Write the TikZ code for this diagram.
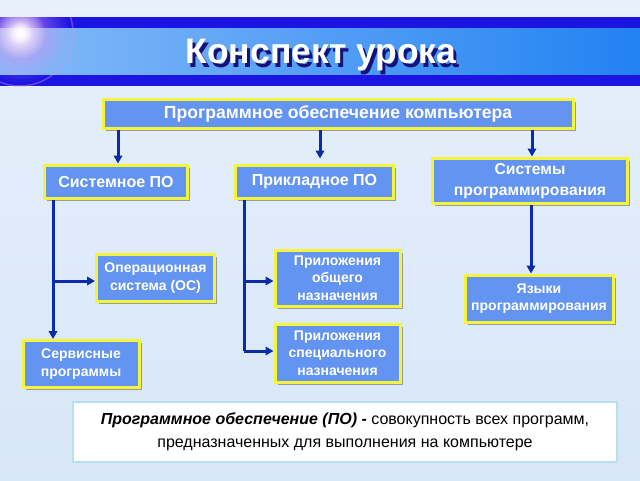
\documentclass[tikz,border=0pt]{standalone}
\usepackage{fontspec}
\setmainfont{Liberation Sans}
\usetikzlibrary{arrows.meta,shadows,calc,fadings}
\definecolor{bg}{HTML}{D7E6F8}
\definecolor{banddark}{HTML}{1C14E0}
\definecolor{bandmid}{HTML}{2282F2}
\definecolor{boxblue}{HTML}{6394F2}
\definecolor{boxedge}{HTML}{F4F43A}
\definecolor{arrblue}{HTML}{0A2CA8}
\definecolor{defedge}{HTML}{B6E0EC}
\definecolor{titleshadow}{HTML}{14127A}
\definecolor{glowpink}{HTML}{D890F0}
\tikzfading[name=glowfade, inner color=transparent!0, outer color=transparent!100]
\tikzset{
  box/.style={draw=boxedge, line width=3pt, fill=boxblue, text=white,
    font=\bfseries\fontsize{16}{19}\selectfont, align=center, inner sep=0pt,
    drop shadow={shadow xshift=2.5pt, shadow yshift=-2.5pt, fill=black!60, opacity=0.6}},
  small/.style={font=\bfseries\fontsize{14}{17.5}\selectfont},
  arr/.style={draw=arrblue, line width=3pt, -{Triangle[length=8pt,width=8.5pt]}},
  trunk/.style={draw=arrblue, line width=3pt},
  titletext/.style={font=\bfseries\fontsize{35.5}{40}\selectfont}
}
\begin{document}
\begin{tikzpicture}[x=1pt,y=-1pt]
\useasboundingbox (0,0) rectangle (640,480);
\shade[top color=bg!60!white, bottom color=bg] (0,0) rectangle (640,480);
% title band
\fill[banddark] (0,17) rectangle (640,86);
\shade[left color=bandmid!55!white, right color=bandmid] (0,28) rectangle (640,74);
\begin{scope}
\clip (0,17) rectangle (640,86);
\fill[glowpink, opacity=0.8, path fading=glowfade] (20,33) circle (50);
\fill[white, path fading=glowfade] (20,33) circle (26);
\fill[white, path fading=glowfade] (20,33) circle (12);
\draw[glowpink, opacity=0.4, line width=1.5pt] (20,33) circle (53);
\end{scope}
\node[titletext, text=titleshadow] at (324,58.5) {Конспект урока};
\node (title) [titletext, text=white] at (321,54.5) {Конспект урока};
% boxes
\node (b0) [box, font=\bfseries\fontsize{17.6}{20}\selectfont, minimum width=470, minimum height=29] at (338,114) {Программное обеспечение компьютера};
\node (sys) [box, minimum width=143, minimum height=33] at (116,181.5) {Системное ПО};
\node (app) [box, minimum width=158, minimum height=33] at (314.5,181.5) {Прикладное ПО};
\node (prog) [box, font=\bfseries\fontsize{15.7}{20.5}\selectfont, minimum width=195, minimum height=45] at (530,180.5) {\raisebox{0pt}[12pt][0pt]{Системы}\\программирования};
\node (os) [box, small, minimum width=118, minimum height=47] at (155.5,278) {Операционная\\система (ОС)};
\node (gen) [box, small, minimum width=125, minimum height=56] at (337.5,278) {Приложения\\общего\\назначения};
\node (lang) [box, small, minimum width=148, minimum height=47] at (539,298.5) {Языки\\программирования};
\node (spec) [box, small, minimum width=125, minimum height=58] at (337.5,353) {Приложения\\специального\\назначения};
\node (serv) [box, small, minimum width=116, minimum height=47] at (81,364) {Сервисные\\программы};
\node (def) [draw=defedge, line width=1.5pt, fill=white, minimum width=544, minimum height=60, align=center, font=\fontsize{16}{23}\selectfont] at (345,432) {\textbf{\textit{Программное обеспечение (ПО) -}} совокупность всех программ,\\предназначенных для выполнения на компьютере};
% connectors
\draw[arr] (b0.south -| 118,0) -- (sys.north -| 118,0);
\draw[arr] (b0.south -| 320,0) -- ($(app.north -| 320,0)+(0,-5)$);
\draw[arr] (b0.south -| 532,0) -- (prog.north -| 532,0);
\draw[arr] (sys.south -| 53,0) -- (serv.north -| 53,0);
\draw[arr] (53,281) -- (os.west |- 53,281);
\draw[trunk] (app.south -| 244,0) -- (244,351);
\draw[arr] (244,281) -- (gen.west |- 244,281);
\draw[arr] (244,351) -- (spec.west |- 244,351);
\draw[arr] (prog.south -| 531,0) -- (lang.north -| 531,0);
\end{tikzpicture}
\end{document}
